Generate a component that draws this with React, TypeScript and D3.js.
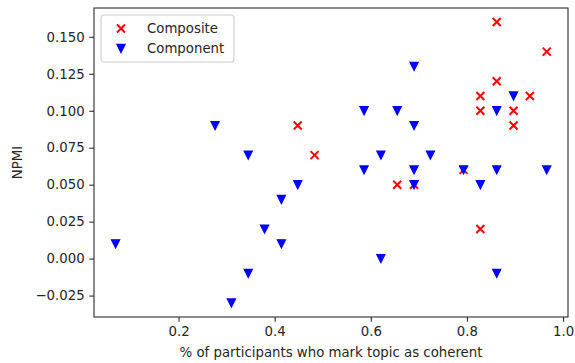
import * as d3 from "d3";
import React, { useEffect, useRef } from "react";

// share of participants (x) and NPMI (y)
const compositeX = [0.448, 0.483, 0.655, 0.690, 0.793, 0.828, 0.828, 0.828, 0.862, 0.862, 0.897, 0.897, 0.931, 0.966];
const compositeY = [0.09, 0.07, 0.05, 0.05, 0.06, 0.11, 0.10, 0.02, 0.16, 0.12, 0.10, 0.09, 0.11, 0.14];

const componentX = [0.069, 0.276, 0.310, 0.345, 0.345, 0.379, 0.414, 0.414, 0.448, 0.586, 0.586, 0.621, 0.621, 0.655, 0.690, 0.690, 0.690, 0.690, 0.724, 0.793, 0.828, 0.862, 0.862, 0.862, 0.897, 0.966];
const componentY = [0.01, 0.09, -0.03, 0.07, -0.01, 0.02, 0.04, 0.01, 0.05, 0.10, 0.06, 0.07, 0.00, 0.10, 0.13, 0.09, 0.06, 0.05, 0.07, 0.06, 0.05, 0.10, 0.06, -0.01, 0.11, 0.06];

const xTicks = [0.2, 0.4, 0.6, 0.8, 1.0];
const yTicks = [-0.025, 0, 0.025, 0.05, 0.075, 0.1, 0.125, 0.15];
const seriesNames = ["Composite", "Component"];

const App = () => {
  const svgRef = useRef(null);

  useEffect(() => {
    const svg = d3.select(svgRef.current);
    svg.selectAll("*").remove();

    const margin = { top: 8, right: 7, bottom: 46, left: 94 };
    const width = 575;
    const height = 363;
    const innerWidth = width - margin.left - margin.right;
    const innerHeight = height - margin.top - margin.bottom;
    const font = "DejaVu Sans, sans-serif";
    const textColor = "#262626";

    const xScale = d3.scaleLinear().domain([0.0241, 1.0103]).range([0, innerWidth]);
    const yScale = d3.scaleLinear().domain([-0.0395, 0.1695]).range([innerHeight, 0]);

    const g = svg
      .append("g")
      .attr("transform", `translate(${margin.left},${margin.top})`);

    // axes
    const xAxis = g
      .append("g")
      .attr("transform", `translate(0,${innerHeight})`)
      .call(d3.axisBottom(xScale).tickValues(xTicks).tickFormat(d3.format(".1f")).tickSizeOuter(0).tickSize(4.7).tickPadding(4.7));
    const yAxis = g
      .append("g")
      .call(
        d3.axisLeft(yScale)
          .tickValues(yTicks)
          .tickFormat((d) => d3.format(".3f")(d).replace("-", "\u2212"))
          .tickSizeOuter(0)
          .tickSize(4.7)
          .tickPadding(4.7)
      );
    [xAxis, yAxis].forEach((a) => {
      a.select(".domain").remove();
      a.selectAll("line").attr("stroke", textColor).attr("stroke-width", 1.07);
      a.selectAll("text").attr("fill", textColor).style("font-family", font).style("font-size", "13.3px");
    });

    // frame
    g.append("rect")
      .attr("width", innerWidth)
      .attr("height", innerHeight)
      .attr("fill", "none")
      .attr("stroke", textColor)
      .attr("stroke-width", 1.07);

    const drawCross = (sel, x, y) => {
      sel.append("path")
        .attr("d", `M${x - 4},${y - 4}L${x + 4},${y + 4}M${x - 4},${y + 4}L${x + 4},${y - 4}`)
        .attr("stroke", "red")
        .attr("stroke-width", 2)
        .attr("fill", "none");
    };
    const drawTri = (sel, x, y) => {
      sel.append("path")
        .attr("d", `M${x - 4},${y - 4}L${x + 4},${y - 4}L${x},${y + 4}Z`)
        .attr("stroke", "blue")
        .attr("stroke-width", 1.3)
        .attr("stroke-linejoin", "miter")
        .attr("fill", "blue");
    };

    const marks = g.append("g");
    compositeX.forEach((x, i) => drawCross(marks, xScale(x), yScale(compositeY[i])));
    componentX.forEach((x, i) => drawTri(marks, xScale(x), yScale(componentY[i])));

    // legend
    const legend = svg.append("g").attr("transform", "translate(101,15)");
    legend.append("rect")
      .attr("width", 133)
      .attr("height", 47)
      .attr("rx", 3)
      .attr("fill", "white")
      .attr("fill-opacity", 0.8)
      .attr("stroke", "#cccccc")
      .attr("stroke-width", 1.07);
    seriesNames.forEach((name, i) => {
      const cy = 13.5 + i * 20;
      if (i === 0) drawCross(legend, 20, cy);
      else drawTri(legend, 20, cy);
      legend.append("text")
        .attr("x", 46)
        .attr("y", cy)
        .attr("dy", "0.35em")
        .attr("fill", textColor)
        .style("font-family", font)
        .style("font-size", "13.3px")
        .text(name);
    });

    // axis labels
    svg.append("text")
      .attr("x", margin.left + innerWidth / 2)
      .attr("y", 357)
      .attr("text-anchor", "middle")
      .attr("fill", textColor)
      .style("font-family", font)
      .style("font-size", "13.3px")
      .text("% of participants who mark topic as coherent");
    svg.append("text")
      .attr("transform", `translate(22,${margin.top + innerHeight / 2}) rotate(-90)`)
      .attr("text-anchor", "middle")
      .attr("fill", textColor)
      .style("font-family", font)
      .style("font-size", "13.3px")
      .text("NPMI");
  }, []);

  return (
    <svg
      ref={svgRef}
      width="575"
      height="363"
      style={{ position: "absolute", left: 0, top: 0, background: "white" }}
    ></svg>
  );
};

export default App;
